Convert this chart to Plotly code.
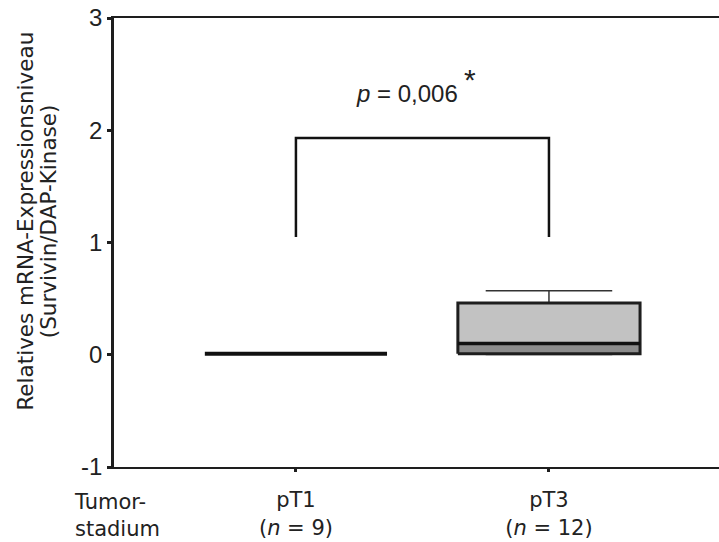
import plotly.graph_objects as go

# ---- data ----
categories = ["pT1", "pT3"]
n_values = [9, 12]
q1 = [0.01, 0.01]
median = [0.01, 0.10]
q3 = [0.01, 0.46]
lower_whisker = [0.01, 0.0]
upper_whisker = [0.01, 0.57]
bracket_top = 1.93
bracket_bottom = 1.05
p_text = "0,006"
y_ticks = [-1, 0, 1, 2, 3]

xpos = [1, 2]
box_w = 0.72
cap_w = 0.50
FONT = "Liberation Sans, Arial, sans-serif"
WIDE = "DejaVu Sans, Liberation Sans, sans-serif"
INK = "#1e1e1e"
TXT = "#222222"

fig = go.Figure()

for i, x in enumerate(xpos):
    if median[i] > q1[i]:
        fig.add_trace(go.Bar(x=[x], y=[median[i] - q1[i]], base=[q1[i]], width=box_w,
                             marker=dict(color="#8c8c8c", line=dict(width=0)), showlegend=False))
    if q3[i] > median[i]:
        fig.add_trace(go.Bar(x=[x], y=[q3[i] - median[i]], base=[median[i]], width=box_w,
                             marker=dict(color="#c2c2c2", line=dict(width=0)), showlegend=False))
    if upper_whisker[i] > q3[i]:
        fig.add_trace(go.Scatter(x=[x, x, None, x - cap_w / 2, x + cap_w / 2],
                                 y=[q3[i], upper_whisker[i], None, upper_whisker[i], upper_whisker[i]],
                                 mode="lines", line=dict(color="#333333", width=1.5), showlegend=False))
    if lower_whisker[i] < q1[i]:
        fig.add_trace(go.Scatter(x=[x - cap_w / 2, x + cap_w / 2],
                                 y=[lower_whisker[i], lower_whisker[i]],
                                 mode="lines", line=dict(color="#555555", width=1.2), showlegend=False))
    if q3[i] > q1[i]:
        xl, xr = x - box_w / 2, x + box_w / 2
        fig.add_trace(go.Scatter(x=[xl, xr, xr, xl, xl], y=[q1[i], q1[i], q3[i], q3[i], q1[i]],
                                 mode="lines", line=dict(color=INK, width=3), showlegend=False))
    fig.add_trace(go.Scatter(x=[x - box_w / 2, x + box_w / 2], y=[median[i], median[i]],
                             mode="lines", line=dict(color="#111111", width=4 if q3[i] == q1[i] else 3.5),
                             showlegend=False))

# significance bracket
fig.add_trace(go.Scatter(x=[xpos[0], xpos[0], xpos[1], xpos[1]],
                         y=[bracket_bottom, bracket_top, bracket_top, bracket_bottom],
                         mode="lines", line=dict(color="#111111", width=2.5), showlegend=False))

fig.add_annotation(x=1.439, y=2.33, xref="x", yref="y", xanchor="center", yanchor="middle",
                   text="<i>p</i> = " + p_text, showarrow=False,
                   font=dict(family=FONT, size=24, color=TXT))
fig.add_annotation(x=1.688, y=2.45, xref="x", yref="y", xanchor="center", yanchor="middle",
                   text="*", showarrow=False,
                   font=dict(family=FONT, size=30, color=TXT))

# y-axis title (two lines, tight spacing)
fig.add_annotation(x=-0.1460, y=0.548, xref="paper", yref="paper", textangle=-90,
                   xanchor="center", yanchor="middle",
                   text="Relatives mRNA-Expressionsniveau", showarrow=False,
                   font=dict(family=WIDE, size=21.5, color=TXT))
fig.add_annotation(x=-0.1070, y=0.548, xref="paper", yref="paper", textangle=-90,
                   xanchor="center", yanchor="middle",
                   text="(Survivin/DAP-Kinase)", showarrow=False,
                   font=dict(family=WIDE, size=21.5, color=TXT))

fig.add_annotation(x=-0.0694, y=-0.108, xref="paper", yref="paper", xanchor="left", yanchor="middle",
                   text="Tumor-<br>stadium", showarrow=False, align="left",
                   font=dict(family=WIDE, size=21, color=TXT))

ticktext = [f"{c}<br>(<i>n</i> = {n})" for c, n in zip(categories, n_values)]

fig.update_layout(
    width=719, height=542,
    margin=dict(l=114, r=0, t=18, b=75),
    paper_bgcolor="white", plot_bgcolor="white",
    barmode="overlay",
    font=dict(family=FONT, color=TXT),
    xaxis=dict(range=[0.281, 2.672], tickvals=xpos, ticktext=ticktext, automargin=False,
               showline=True, linecolor=INK, linewidth=2, mirror=True,
               ticks="outside", ticklen=3, tickwidth=3, tickcolor=INK,
               ticklabelstandoff=10, ticklabeloverflow="allow",
               showgrid=False, zeroline=False, tickfont=dict(family=WIDE, size=21)),
    yaxis=dict(range=[-1, 3], tickvals=y_ticks, ticktext=[str(v) for v in y_ticks], automargin=False,
               showline=True, linecolor=INK, linewidth=2.5,
               ticks="outside", ticklen=4, tickwidth=3, tickcolor=INK,
               ticklabeloverflow="allow",
               showgrid=False, zeroline=False, tickfont=dict(size=24)),
)

fig.write_html("out.html", config={"displayModeBar": False},
               post_script="document.body.style.margin='0px';document.body.style.overflow='hidden';")
